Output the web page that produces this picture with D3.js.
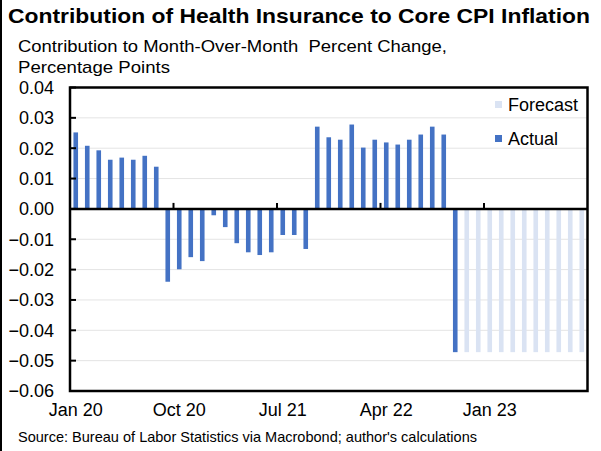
<!DOCTYPE html>
<html>
<head>
<meta charset="utf-8">
<script src="https://cdn.jsdelivr.net/npm/d3@7"></script>
<style>
  html, body { margin: 0; padding: 0; background: #fff; }
  svg { display: block; font-family: "Liberation Sans", Arial, sans-serif; }
</style>
</head>
<body>
<svg id="chart" width="601" height="451"></svg>
<script>
// ---- data ----
const months = [
  "Jan 20","Feb 20","Mar 20","Apr 20","May 20","Jun 20","Jul 20","Aug 20","Sep 20","Oct 20","Nov 20","Dec 20",
  "Jan 21","Feb 21","Mar 21","Apr 21","May 21","Jun 21","Jul 21","Aug 21","Sep 21","Oct 21","Nov 21","Dec 21",
  "Jan 22","Feb 22","Mar 22","Apr 22","May 22","Jun 22","Jul 22","Aug 22","Sep 22","Oct 22","Nov 22","Dec 22",
  "Jan 23","Feb 23","Mar 23","Apr 23","May 23","Jun 23","Jul 23","Aug 23","Sep 23"
];
const actual = [
  0.0252, 0.0208, 0.0193, 0.0162, 0.0169, 0.0162, 0.0175, 0.0139, -0.0240, -0.0199, -0.0159, -0.0172,
  -0.0021, -0.0060, -0.0113, -0.0143, -0.0152, -0.0143, -0.0086, -0.0086, -0.0132, 0.0271, 0.0236, 0.0228,
  0.0278, 0.0202, 0.0228, 0.0219, 0.0212, 0.0228, 0.0245, 0.0271, 0.0245, -0.0472
];
const forecast = [
  -0.0472, -0.0472, -0.0472, -0.0472, -0.0472, -0.0472, -0.0472, -0.0472, -0.0472, -0.0472, -0.0472
];
const yTicks = [0.04, 0.03, 0.02, 0.01, 0, -0.01, -0.02, -0.03, -0.04, -0.05, -0.06];
const xLabels = ["Jan 20", "Oct 20", "Jul 21", "Apr 22", "Jan 23"];

const title = "Contribution of Health Insurance to Core CPI Inflation";
const subtitle1 = "Contribution to Month-Over-Month  Percent Change,";
const subtitle2 = "Percentage Points";
const source = "Source: Bureau of Labor Statistics via Macrobond; author's calculations";

// ---- layout ----
const svg = d3.select("#chart");
const L = 70, R = 587.5, T = 87.5, B = 391;
const colActual = "#4472c4", colForecast = "#dae3f3";

const x = d3.scaleBand().domain(months).range([L, R]).paddingInner(0.6).paddingOuter(0.3);
const y = d3.scaleLinear().domain([-0.06, 0.04]).range([B, T]);

// outer left border
svg.append("line").attr("x1", 1).attr("x2", 1).attr("y1", 0).attr("y2", 451)
  .attr("stroke", "#000").attr("stroke-width", 2);

// title
svg.append("text").attr("x", 8).attr("y", 23).attr("font-weight", "bold")
  .attr("font-size", 21).attr("fill", "#000")
  .attr("textLength", 582).attr("lengthAdjust", "spacingAndGlyphs").text(title);
svg.append("text").attr("x", 18).attr("y", 51.5).attr("font-size", 17).attr("fill", "#000")
  .attr("xml:space", "preserve").style("white-space", "pre")
  .attr("textLength", 429).attr("lengthAdjust", "spacingAndGlyphs").text(subtitle1);
svg.append("text").attr("x", 18).attr("y", 72.5).attr("font-size", 17).attr("fill", "#000")
  .attr("textLength", 152).attr("lengthAdjust", "spacingAndGlyphs").text(subtitle2);

// gridlines
svg.append("g").selectAll("line").data(yTicks.filter(d => d !== 0 && d !== 0.04 && d !== -0.06)).join("line")
  .attr("x1", L).attr("x2", R).attr("y1", d => y(d)).attr("y2", d => y(d))
  .attr("stroke", "#e4e4e4").attr("stroke-width", 1);

// bars
const actualData = actual.map((v, i) => ({ m: months[i], v }));
const forecastData = forecast.map((v, i) => ({ m: months[actual.length + i], v }));

svg.append("g").selectAll("rect").data(forecastData).join("rect")
  .attr("x", d => x(d.m)).attr("width", x.bandwidth())
  .attr("y", d => y(Math.max(0, d.v))).attr("height", d => Math.abs(y(d.v) - y(0)))
  .attr("fill", colForecast);
svg.append("g").selectAll("rect").data(actualData).join("rect")
  .attr("x", d => x(d.m)).attr("width", x.bandwidth())
  .attr("y", d => y(Math.max(0, d.v))).attr("height", d => Math.abs(y(d.v) - y(0)))
  .attr("fill", colActual);

// y axis ticks (inward)
svg.append("g").selectAll("line").data(yTicks).join("line")
  .attr("x1", L).attr("x2", L + 6).attr("y1", d => y(d)).attr("y2", d => y(d))
  .attr("stroke", "#000").attr("stroke-width", 2);

// y tick labels
svg.append("g").selectAll("text").data(yTicks).join("text")
  .attr("x", 54).attr("y", d => y(d)).attr("dy", "0.36em")
  .attr("text-anchor", "end").attr("font-size", 18).attr("fill", "#000")
  .text(d => d3.format(".2f")(d));

// zero line
svg.append("line").attr("x1", L).attr("x2", R).attr("y1", y(0)).attr("y2", y(0))
  .attr("stroke", "#000").attr("stroke-width", 2.5);

// x ticks at category boundaries every 9 months (upward)
const step = x.step();
const tickIdx = xLabels.map(l => months.indexOf(l));
svg.append("g").selectAll("line").data(tickIdx.filter(i => i > 0)).join("line")
  .attr("x1", i => x(months[i]) - x.paddingInner() * step / 2)
  .attr("x2", i => x(months[i]) - x.paddingInner() * step / 2)
  .attr("y1", y(0)).attr("y2", y(0) - 6)
  .attr("stroke", "#000").attr("stroke-width", 2);

// frame
svg.append("rect").attr("x", L).attr("y", T).attr("width", R - L).attr("height", B - T)
  .attr("fill", "none").attr("stroke", "#000").attr("stroke-width", 2.5);

// x labels
svg.append("g").selectAll("text").data(xLabels).join("text")
  .attr("x", d => x(d) + x.bandwidth() / 2).attr("y", 416)
  .attr("text-anchor", "middle").attr("font-size", 18).attr("fill", "#000")
  .text(d => d);

// legend
const legend = [{ name: "Forecast", c: colForecast }, { name: "Actual", c: colActual }];
const lg = svg.append("g").selectAll("g").data(legend).join("g")
  .attr("transform", (d, i) => `translate(495, ${101 + i * 34})`);
lg.append("rect").attr("width", 7).attr("height", 7).attr("fill", d => d.c);
lg.append("text").attr("x", 13).attr("y", 3.5).attr("dy", "0.36em")
  .attr("font-size", 18).attr("fill", "#000").text(d => d.name);

// source
svg.append("text").attr("x", 18).attr("y", 442).attr("font-size", 14.5).attr("fill", "#000")
  .attr("textLength", 459).attr("lengthAdjust", "spacingAndGlyphs").text(source);
</script>
</body>
</html>
